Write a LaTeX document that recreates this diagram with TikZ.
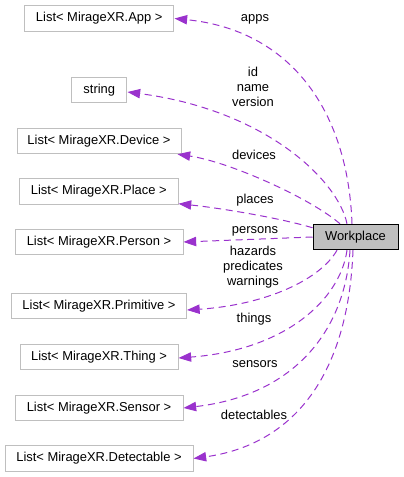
\documentclass[tikz,border=0pt]{standalone}
\usepackage{fontspec}
\setmainfont{Liberation Sans}
\usetikzlibrary{arrows.meta,calc}
\definecolor{edgec}{HTML}{9A32CD}
\definecolor{boxc}{HTML}{BFBFBF}
\begin{document}
\begin{tikzpicture}[x=0.75pt,y=-0.75pt,
  font=\fontsize{9.7}{11.25}\selectfont,
  box/.style={draw=boxc, line width=0.75pt, inner sep=0pt, minimum height=19.1pt},
  lbl/.style={align=center, inner sep=0pt},
  dep/.style={draw=edgec, line width=0.75pt, dash pattern=on 5.25pt off 3.5pt,
    -{Triangle[length=9.5pt,width=7pt]}}]
\useasboundingbox (0,0) rectangle (403,477);

% nodes
\node[box, minimum width=112.1pt] (app) at (99.25,18.5) {List< MirageXR.App >};
\node[box, minimum width=41.6pt] (str) at (99.25,90) {string};
\node[box, minimum width=123pt] (dev) at (99,141) {List< MirageXR.Device >};
\node[box, minimum width=118.9pt] (pl) at (98.75,191.5) {List< MirageXR.Place >};
\node[box, minimum width=126pt] (per) at (99,242) {List< MirageXR.Person >};
\node[box, minimum width=63.75pt, fill=boxc, draw=black] (wp) at (355.5,237) {Workplace};
\node[box, minimum width=131.25pt] (prim) at (99,306) {List< MirageXR.Primitive >};
\node[box, minimum width=118.5pt] (thing) at (99,357) {List< MirageXR.Thing >};
\node[box, minimum width=126pt] (sens) at (99,408) {List< MirageXR.Sensor >};
\node[box, minimum width=141pt] (det) at (99,458.5) {List< MirageXR.Detectable >};

% connectors
\draw[dep] ($(wp.north)+(-3.5,0)$) .. controls (348,110) and (290,30) .. (app.east);
\draw[dep] ($(wp.north)+(-8.5,0)$) .. controls (338,180) and (265,110) .. ($(str.east)+(0,2)$);
\draw[dep] ($(wp.north)+(-15.5,0)$) .. controls (310,198) and (230,162) .. ($(dev.south east)+(-4,0)$);
\draw[dep] ($(wp.north west)+(0,4)$) .. controls (280,218) and (220,208) .. ($(pl.south east)+(0,-1)$);
\draw[dep] (wp.west) -- (per.east);
\draw[dep] ($(wp.south)+(-18.5,0)$) .. controls (320,280) and (265,305) .. ($(prim.east)+(0,4)$);
\draw[dep] ($(wp.south)+(-8.5,0)$) .. controls (340,300) and (285,350) .. ($(thing.east)+(0,1)$);
\draw[dep] ($(wp.south)+(-5.5,0)$) .. controls (345,330) and (295,395) .. (sens.east);
\draw[dep] ($(wp.south)+(-2.5,0)$) .. controls (348,380) and (290,445) .. (det.east);

% labels
\node[lbl] (l1) at (255,19) {apps};
\node[lbl] (l2) at (253,87) {id\\name\\version};
\node[lbl] (l3) at (254,155) {devices};
\node[lbl] (l4) at (255,200) {places};
\node[lbl] (l5) at (255,231) {persons};
\node[lbl] (l6) at (253,267) {hazards\\predicates\\warnings};
\node[lbl] (l7) at (254,319) {things};
\node[lbl] (l8) at (255,364) {sensors};
\node[lbl] (l9) at (254,415) {detectables};
\end{tikzpicture}
\end{document}
